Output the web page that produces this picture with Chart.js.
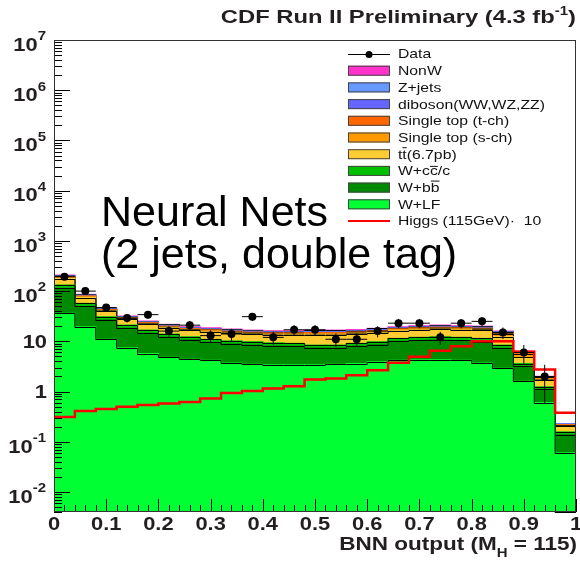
<!DOCTYPE html>
<html>
<head>
<meta charset="utf-8">
<script src="https://cdn.jsdelivr.net/npm/chart.js@4.4.1/dist/chart.umd.min.js"></script>
<style>
html, body { margin: 0; padding: 0; background: #fff; }
</style>
</head>
<body>
<canvas id="myChart" width="580" height="563"></canvas>
<script>
// bins of the BNN output, 0 .. 1 in steps of 0.04
const binEdges = [0, 0.04, 0.08, 0.12, 0.16, 0.2, 0.24, 0.28, 0.32, 0.36, 0.4, 0.44, 0.48,
                  0.52, 0.56, 0.6, 0.64, 0.68, 0.72, 0.76, 0.8, 0.84, 0.88, 0.92, 0.96, 1];

// stacked backgrounds, bottom to top
const wLF     = [36, 19.5, 10.9, 7.4, 5.7, 4.8, 4.4, 4.2, 3.7, 3.5, 3.4, 3.4, 3.4, 3.5, 3.6, 3.9, 4.2, 4.3, 4.3, 4.2, 3.7, 2.9, 1.6, 0.6, 0.06];
const wBB     = [77, 30, 16, 10.9, 8.8, 7.3, 6.3, 5.4, 5.2, 5.0, 4.7, 4.6, 4.0, 3.9, 4.4, 4.7, 5.8, 6.2, 6.4, 6.2, 6.2, 4.4, 1.6, 0.51, 0.078];
const wCC     = [19, 7.5, 3.9, 2.7, 2.2, 1.8, 1.6, 1.3, 1.3, 1.3, 1.2, 1.1, 1.0, 1.0, 1.1, 1.2, 1.4, 1.5, 1.6, 1.6, 1.5, 1.1, 0.4, 0.13, 0.019];
const ttbar   = [46, 17.5, 9.1, 6.5, 5.2, 4.7, 4.3, 4.6, 4.4, 4.1, 4.1, 4.3, 5.0, 5.0, 4.8, 5.0, 4.9, 5.0, 5.2, 5.0, 5.2, 4.0, 1.2, 0.45, 0.045];
const stopS   = [8, 3, 1.5, 1.1, 0.9, 0.8, 0.7, 0.8, 0.7, 0.7, 0.7, 0.7, 0.8, 0.8, 0.8, 0.8, 0.8, 0.8, 0.9, 0.8, 0.9, 1.5, 0.7, 0.12, 0.01];
const stopT   = [6, 2.5, 1.2, 0.9, 0.7, 0.6, 0.6, 0.6, 0.6, 0.6, 0.6, 0.6, 0.7, 0.7, 0.6, 0.7, 0.6, 0.7, 0.7, 0.7, 0.7, 1.0, 0.6, 0.1, 0.008];
const diboson = [4, 1.7, 0.9, 0.6, 0.5, 0.5, 0.4, 0.5, 0.4, 0.4, 0.4, 0.4, 0.5, 0.5, 0.5, 0.5, 0.5, 0.5, 0.5, 0.5, 0.5, 0.3, 0.1, 0.04, 0.006];
const zJets   = [3, 1.2, 0.6, 0.4, 0.3, 0.3, 0.3, 0.3, 0.3, 0.3, 0.3, 0.3, 0.3, 0.3, 0.3, 0.3, 0.3, 0.3, 0.3, 0.3, 0.3, 0.2, 0.05, 0.02, 0.004];
const nonW    = [9, 3.1, 1.9, 1.3, 1.0, 0.9, 0.9, 0.9, 0.9, 0.8, 0.8, 0.8, 1.0, 1.0, 1.0, 1.0, 1.0, 1.1, 1.1, 1.1, 1.0, 0.6, 0.15, 0.03, 0];

// higgs signal x10, drawn as a line
const higgs10 = [0.31, 0.41, 0.45, 0.50, 0.54, 0.58, 0.62, 0.73, 0.94, 1.03, 1.15, 1.28, 1.74, 1.82, 2.12, 2.67, 3.73, 4.91, 6.47, 8.0, 10.1, 10.1, 6.2, 2.75, 0.38];

// observed events (last bin empty)
const dataObs = [193, 100, 47, 29, 34, 16, 21, 13, 14, 31, 12, 17, 17, 11, 11, 16, 23, 23, 12, 23, 25, 15, 6, 2, null];

const xTicks = [0, 0.1, 0.2, 0.3, 0.4, 0.5, 0.6, 0.7, 0.8, 0.9, 1];
const xTickLabels = ['0', '0.1', '0.2', '0.3', '0.4', '0.5', '0.6', '0.7', '0.8', '0.9', '1'];
const yExponents = [-2, -1, 0, 1, 2, 3, 4, 5, 6, 7];

const binLabels = binEdges.slice(0, -1).map(e => e.toFixed(2));
const binCenters = binEdges.slice(0, -1).map((e, i) => (e + binEdges[i + 1]) / 2);

const FONT = "'Liberation Sans', Arial, sans-serif";
const SX = 1.25;   // ROOT picture is stretched sideways, so are its texts

function stackSet(label, values, color, order) {
    return {
        type: 'bar', label: label, data: values, order: order,
        backgroundColor: color, borderWidth: 0,
        xAxisID: 'x', yAxisID: 'y', stack: 'mc', grouped: false,
        barPercentage: 1, categoryPercentage: 1, inflateAmount: 0.6
    };
}

// parts: [{t, font, dy, bar}] drawn one after the other, stretched by SX
function drawParts(ctx, parts, x, y, align) {
    let total = 0;
    parts.forEach(p => { ctx.font = p.font; total += ctx.measureText(p.t).width * SX; });
    let px = align === 'right' ? x - total : (align === 'center' ? x - total / 2 : x);
    parts.forEach(p => {
        ctx.font = p.font;
        const m = ctx.measureText(p.t);
        const yy = y + (p.dy || 0);
        ctx.save();
        ctx.translate(px, yy);
        ctx.scale(SX, 1);
        ctx.fillText(p.t, 0, 0);
        if (p.bar) {
            const top = -m.actualBoundingBoxAscent - 1.5;
            ctx.fillRect(0, top - 1, m.width, 1);
        }
        ctx.restore();
        px += m.width * SX;
    });
}

// split a label, a char followed by U+0304 gets a bar on top
function labelParts(str, font) {
    const parts = [];
    let buf = '';
    for (let i = 0; i < str.length; i++) {
        const c = str[i];
        if (c === '\u0304') continue;
        if (str[i + 1] === '\u0304') {
            if (buf) { parts.push({t: buf, font: font}); buf = ''; }
            parts.push({t: c, font: font, bar: true});
        } else {
            buf += c;
        }
    }
    if (buf) parts.push({t: buf, font: font});
    return parts;
}

const rootPlugin = {
    id: 'rootStyle',
    afterDatasetDraw(chart, args) {
        // ROOT style step outline on top of each stacked histogram
        const meta = args.meta;
        if (meta.type !== 'bar') return;
        const ctx = chart.ctx;
        ctx.save();
        ctx.strokeStyle = '#000';
        ctx.lineWidth = 1;
        ctx.beginPath();
        meta.data.forEach((bar, j) => {
            const p = bar.getProps(['x', 'y', 'width'], true);
            const yy = Math.round(p.y) + 0.5;
            if (j === 0) ctx.moveTo(p.x - p.width / 2, yy);
            else ctx.lineTo(p.x - p.width / 2, yy);
            ctx.lineTo(p.x + p.width / 2, yy);
        });
        ctx.stroke();
        ctx.restore();
    },
    afterDatasetsDraw(chart) {
        const ctx = chart.ctx, area = chart.chartArea;
        const xs = chart.scales.xv, ys = chart.scales.y;
        ctx.save();
        ctx.strokeStyle = '#000';
        ctx.lineWidth = 1;

        // error bars of the data
        ctx.beginPath();
        dataObs.forEach((n, i) => {
            if (n == null) return;
            const cx = xs.getPixelForValue(binCenters[i]);
            const cy = ys.getPixelForValue(n);
            ctx.moveTo(xs.getPixelForValue(binEdges[i]), cy);
            ctx.lineTo(xs.getPixelForValue(binEdges[i + 1]), cy);
            ctx.moveTo(cx, ys.getPixelForValue(Math.max(n - Math.sqrt(n), ys.min)));
            ctx.lineTo(cx, ys.getPixelForValue(n + Math.sqrt(n)));
        });
        ctx.stroke();

        // ticks, inside the frame like ROOT
        ctx.beginPath();
        for (let k = -3; k <= 7; k++) {
            for (let m = 1; m <= 9; m++) {
                const v = m * Math.pow(10, k);
                if (v < ys.min * 0.999 || v > ys.max * 1.001) continue;
                const py = Math.round(ys.getPixelForValue(v)) + 0.5;
                ctx.moveTo(area.left, py);
                ctx.lineTo(area.left + (m === 1 ? 16 : 8), py);
            }
        }
        for (let j = 0; j <= 50; j++) {
            const px = Math.round(xs.getPixelForValue(j * 0.02)) + 0.5;
            ctx.moveTo(px, area.bottom);
            ctx.lineTo(px, area.bottom - (j % 5 === 0 ? 13 : 7));
        }
        ctx.stroke();

        ctx.strokeStyle = '#333';
        ctx.strokeRect(area.left + 0.5, area.top + 0.5, area.right - area.left - 1, area.bottom - area.top - 1);
        ctx.restore();
    },
    afterDraw(chart) {
        const ctx = chart.ctx;
        const xs = chart.scales.xv, ys = chart.scales.y;
        ctx.save();
        ctx.fillStyle = '#231f20';
        ctx.textBaseline = 'middle';

        // y labels
        const big = 'bold 17.5px ' + FONT, sup = 'bold 12px ' + FONT;
        yExponents.forEach(k => {
            const py = ys.getPixelForValue(Math.pow(10, k));
            if (k === 0) drawParts(ctx, [{t: '1', font: big}], 47, py + 2, 'right');
            else if (k === 1) drawParts(ctx, [{t: '10', font: big}], 47, py + 2, 'right');
            else drawParts(ctx, [{t: '10', font: big, dy: 6}, {t: String(k), font: sup, dy: -3}], 46, py, 'right');
        });

        // x labels
        xTicks.forEach((v, i) => {
            drawParts(ctx, [{t: xTickLabels[i], font: big}], xs.getPixelForValue(v), 525, 'center');
        });

        // axis title and header
        drawParts(ctx, [
            {t: 'BNN output (M', font: 'bold 18px ' + FONT},
            {t: 'H', font: 'bold 12px ' + FONT, dy: 9},
            {t: ' = 115)', font: 'bold 18px ' + FONT}
        ], 577, 545, 'right');
        drawParts(ctx, [
            {t: 'CDF Run II Preliminary (4.3 fb', font: 'bold 19px ' + FONT},
            {t: '-1', font: 'bold 12px ' + FONT, dy: -6},
            {t: ')', font: 'bold 19px ' + FONT}
        ], 576, 18, 'right');

        // legend
        const lx = 348, tx = 398, step = 16.7;
        const order = ['Data', 'NonW', 'Z+jets', 'diboson(WW,WZ,ZZ)', 'Single top (t-ch)', 'Single top (s-ch)',
                       'tt\u0304(6.7pb)', 'W+cc\u0304/c', 'W+bb\u0304', 'W+LF', 'Higgs (115GeV)\u00b7  10'];
        order.forEach((name, i) => {
            const ds = chart.data.datasets.find(d => d.label === name);
            const y = 54 + i * step;
            if (ds.type === 'bar') {
                ctx.fillStyle = ds.backgroundColor;
                ctx.fillRect(lx, y - 5, 42, 10);
                ctx.strokeStyle = '#444';
                ctx.lineWidth = 1;
                ctx.strokeRect(lx + 0.5, y - 4.5, 41, 9);
            } else if (ds.showLine === false) {
                ctx.strokeStyle = '#000';
                ctx.lineWidth = 1;
                ctx.beginPath();
                ctx.moveTo(lx, y + 0.5); ctx.lineTo(lx + 42, y + 0.5);
                ctx.stroke();
                ctx.fillStyle = '#000';
                ctx.beginPath();
                ctx.arc(lx + 21, y + 0.5, 3.5, 0, Math.PI * 2);
                ctx.fill();
            } else {
                ctx.strokeStyle = ds.borderColor;
                ctx.lineWidth = 2;
                ctx.beginPath();
                ctx.moveTo(lx, y); ctx.lineTo(lx + 42, y);
                ctx.stroke();
            }
            ctx.fillStyle = '#111';
            drawParts(ctx, labelParts(name, '12.6px ' + FONT), tx, y + 1, 'left');
        });

        // big annotation, not stretched
        ctx.fillStyle = '#000';
        ctx.font = '43px ' + FONT;
        ctx.textAlign = 'left';
        ctx.fillText('Neural Nets', 101, 214);
        ctx.fillText('(2 jets, double tag)', 101, 256);
        ctx.restore();
    }
};

const datasets = [
    {
        type: 'line', label: 'Data', order: 0, showLine: false,
        data: dataObs.map((v, i) => ({x: binCenters[i], y: v})),
        xAxisID: 'xv', yAxisID: 'y', stack: 'data',
        pointRadius: 4, pointHoverRadius: 4, pointBackgroundColor: '#000', pointBorderWidth: 0
    },
    {
        type: 'line', label: 'Higgs (115GeV)\u00b7  10', order: 1,
        data: binEdges.map((e, i) => ({x: e, y: higgs10[Math.min(i, higgs10.length - 1)]})),
        xAxisID: 'xv', yAxisID: 'y', stack: 'higgs',
        stepped: true, borderColor: '#ff0000', borderWidth: 2.5, pointRadius: 0, fill: false
    },
    stackSet('W+LF', wLF, '#00ff33', 2),
    stackSet('W+bb\u0304', wBB, '#008a00', 3),
    stackSet('W+cc\u0304/c', wCC, '#00c000', 4),
    stackSet('tt\u0304(6.7pb)', ttbar, '#ffcc33', 5),
    stackSet('Single top (s-ch)', stopS, '#ff9900', 6),
    stackSet('Single top (t-ch)', stopT, '#ff6600', 7),
    stackSet('diboson(WW,WZ,ZZ)', diboson, '#6666ff', 8),
    stackSet('Z+jets', zJets, '#6699ff', 9),
    stackSet('NonW', nonW, '#ff33cc', 10)
];

const ctx = document.getElementById('myChart').getContext('2d');
const myChart = new Chart(ctx, {
    type: 'bar',
    data: { labels: binLabels, datasets: datasets },
    options: {
        responsive: false,
        devicePixelRatio: 1,
        animation: false,
        layout: { padding: { left: 54, top: 40, right: 2, bottom: 51 } },
        plugins: { legend: { display: false }, tooltip: { enabled: false } },
        scales: {
            x: { type: 'category', display: false, offset: true, stacked: true },
            xv: { type: 'linear', axis: 'x', position: 'bottom', display: false, min: 0, max: 1, offset: false },
            y: { type: 'logarithmic', display: false, min: 0.004, max: 1e7, stacked: true }
        }
    },
    plugins: [rootPlugin]
});
</script>
</body>
</html>
